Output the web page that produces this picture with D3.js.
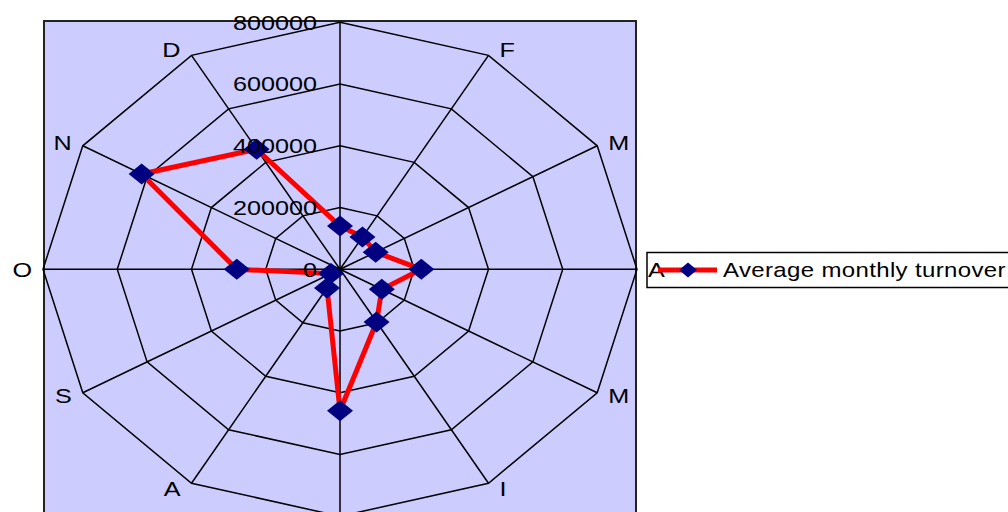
<!DOCTYPE html>
<html>
<head>
<meta charset="utf-8">
<script src="https://cdn.jsdelivr.net/npm/d3@7"></script>
<style>
  html, body { margin: 0; padding: 0; background: #ffffff; }
  svg { display: block; }
  text { font-family: "Liberation Sans", Arial, sans-serif; fill: #000; }
</style>
</head>
<body>
<svg id="chart" width="1008" height="512"></svg>
<script>
// Month initials (Romanian calendar), clockwise from the top spoke
const months = ["I", "F", "M", "A", "M", "I", "I", "A", "S", "O", "N", "D"];
// Average monthly turnover per month
const turnover = [140000, 121000, 111000, 219000, 130000, 197000, 458000, 70000, 28000, 278000, 617000, 449000];
// Value-axis ticks
const ticks = [0, 200000, 400000, 600000, 800000];
const seriesName = "Average monthly turnover";

const W = 1008, H = 512;
const svg = d3.select("#chart");

// Chart geometry: the radar is drawn wider than tall (stretched horizontally)
const cx = 340, cy = 269.3;
const stretch = 1.2;
const rx = d3.scaleLinear().domain([0, 800000]).range([0, 297]);
const ry = d3.scaleLinear().domain([0, 800000]).range([0, 247]);
const angle = d3.scaleLinear().domain([0, months.length]).range([0, 2 * Math.PI]);

const px = (i, v) => cx + rx(v) * Math.sin(angle(i));
const py = (i, v) => cy - ry(v) * Math.cos(angle(i));

// Text helper: horizontally stretched labels
function label(g, x, y, str, anchor, size, spacing) {
  const t = g.append("g").attr("transform", `translate(${x},${y}) scale(${stretch},1)`)
    .append("text")
    .attr("text-anchor", anchor)
    .attr("dominant-baseline", "central")
    .attr("font-size", size)
    .text(str);
  if (spacing) t.attr("letter-spacing", spacing);
  return t;
}

// Plot area
svg.append("rect")
  .attr("x", 44).attr("y", 21)
  .attr("width", 592).attr("height", 520)
  .attr("fill", "#CCCCFF")
  .attr("stroke", "#222").attr("stroke-width", 2);

const grid = svg.append("g").attr("fill", "none").attr("stroke", "#000").attr("stroke-width", 1.5);

// Rings
ticks.filter(t => t > 0).forEach(t => {
  const pts = months.map((m, i) => [px(i, t), py(i, t)]);
  grid.append("path").attr("d", d3.line().curve(d3.curveLinearClosed)(pts));
});

// Spokes
months.forEach((m, i) => {
  grid.append("line")
    .attr("x1", cx).attr("y1", cy)
    .attr("x2", px(i, 800000)).attr("y2", py(i, 800000));
});

// Series line
const linePts = turnover.map((v, i) => [px(i, v), py(i, v)]);
svg.append("path")
  .attr("d", d3.line().curve(d3.curveLinearClosed)(linePts))
  .attr("fill", "none")
  .attr("stroke", "#FF0000")
  .attr("stroke-width", 5)
  .attr("stroke-linejoin", "round");

// Diamond markers
const diamond = (w, h) => `M0,${-h}L${w},0L0,${h}L${-w},0Z`;
svg.append("g").selectAll("path")
  .data(turnover)
  .join("path")
  .attr("transform", (v, i) => `translate(${px(i, v)},${py(i, v)})`)
  .attr("d", diamond(13, 10.5))
  .attr("fill", "#000080");

// Value-axis labels along the top spoke
const axisG = svg.append("g");
ticks.forEach(t => {
  label(axisG, cx - 23, cy - ry(t), String(t), "end", 21);
});

// Month labels around the outer ring; the top one collides with the value axis
// and the bottom one falls below the drawing, so both are left out
const catG = svg.append("g");
months.forEach((m, i) => {
  const a = angle(i);
  const vx = px(i, 800000), vy = py(i, 800000);
  const s = Math.sin(a);
  const anchor = s > 0.1 ? "start" : (s < -0.1 ? "end" : "middle");
  const dx = s > 0.1 ? 11 : (s < -0.1 ? -11 : 0);
  const dy = Math.abs(s) < 0.1 ? 14 * (Math.cos(a) > 0 ? -1 : 1) : -6 * Math.cos(a);
  if (i === 0 || vy + dy > H - 10) return;
  label(catG, vx + dx, vy + dy, m, anchor, 21);
});

// Legend
const leg = svg.append("g");
leg.append("rect")
  .attr("x", 647).attr("y", 252.5)
  .attr("width", 380).attr("height", 35)
  .attr("fill", "none")
  .attr("stroke", "#000").attr("stroke-width", 1.5);
leg.append("line")
  .attr("x1", 658).attr("x2", 717)
  .attr("y1", 270).attr("y2", 270)
  .attr("stroke", "#FF0000").attr("stroke-width", 5);
leg.append("path")
  .attr("transform", "translate(688,270)")
  .attr("d", diamond(9, 7.5))
  .attr("fill", "#000080");
label(leg, 723, 270, seriesName, "start", 20, 0.3);
</script>
</body>
</html>
